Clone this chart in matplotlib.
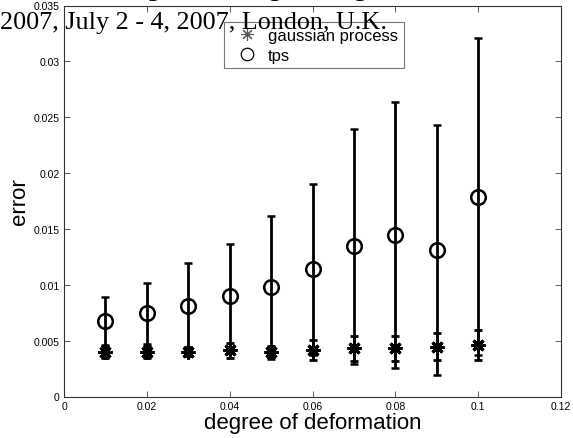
import matplotlib
matplotlib.use("Agg")
import matplotlib.pyplot as plt
from matplotlib.lines import Line2D

plt.rcParams['font.family'] = ['Liberation Sans', 'DejaVu Sans']

deformation = [0.01, 0.02, 0.03, 0.04, 0.05, 0.06, 0.07, 0.08, 0.09, 0.10]
gp_mean = [0.00400, 0.00400, 0.00400, 0.00412, 0.00400, 0.00420, 0.00432, 0.00430, 0.00445, 0.00459]
gp_err = [0.00055, 0.00055, 0.00040, 0.00070, 0.00050, 0.00090, 0.00110, 0.00110, 0.00120, 0.00135]
tps_mean = [0.00677, 0.00743, 0.00811, 0.00900, 0.00976, 0.01137, 0.01345, 0.01447, 0.01310, 0.01787]
tps_err = [0.00215, 0.00271, 0.00380, 0.00463, 0.00640, 0.00765, 0.01050, 0.01190, 0.01120, 0.01418]

xticks = [0, 0.02, 0.04, 0.06, 0.08, 0.1, 0.12]
xticklabels = ['0', '0.02', '0.04', '0.06', '0.08', '0.1', '0.12']
yticks = [0, 0.005, 0.01, 0.015, 0.02, 0.025, 0.03, 0.035]
yticklabels = ['0', '0.005', '0.01', '0.015', '0.02', '0.025', '0.03', '0.035']

W, H = 573, 439
fig = plt.figure(figsize=(W / 100, H / 100), dpi=100)
ax = fig.add_axes([64 / W, 1 - 397.5 / H, (561 - 64) / W, (397.5 - 6.5) / H])

ax.errorbar(deformation, tps_mean, yerr=tps_err, fmt='o', mfc='none', mec='k',
            mew=1.8, ms=10.5, ecolor='k', elinewidth=2, capsize=2.6, capthick=2)
ax.errorbar(deformation, gp_mean, yerr=gp_err, fmt='none', ecolor='k',
            elinewidth=2, capsize=2.6, capthick=2)
ax.plot(deformation, gp_mean, linestyle='none', marker=(8, 2, 0), ms=10,
        mec='k', mew=2.2, color='k')

ax.set_xlim(0, 0.12)
ax.set_ylim(0, 0.035)
ax.set_xticks(xticks)
ax.set_xticklabels(xticklabels)
ax.set_yticks(yticks)
ax.set_yticklabels(yticklabels)
ax.tick_params(direction='in', length=4, width=0.6, labelsize=7.5,
               top=True, right=True, color='#444444', pad=3)
for s in ax.spines.values():
    s.set_color('#333333')
    s.set_linewidth(0.8)

ax.set_xlabel('degree of deformation', fontsize=16, labelpad=1)
ax.set_ylabel('error', fontsize=16, labelpad=3)

handles = [Line2D([], [], linestyle='none', marker=(8, 2, 0), ms=9, mew=0.8,
                  color='#555555'),
           Line2D([], [], linestyle='none', marker='o', ms=9, mfc='none',
                  mec='k', mew=0.9)]
leg = ax.legend(handles, ['gaussian process', 'tps'], loc='upper left',
                bbox_to_anchor=((224 - 64) / 497, (397.5 - 23) / 391),
                borderaxespad=0, fontsize=12, frameon=True, fancybox=False,
                handlelength=2.0, handletextpad=0.3, borderpad=0.35,
                labelspacing=0.28)
leg.get_frame().set_edgecolor('#555555')
leg.get_frame().set_linewidth(0.8)

fig.text(0, 1 - 29.5 / H, '2007, July 2 - 4, 2007, London, U.K.',
         family=['Liberation Serif', 'DejaVu Serif'], fontsize=18.8,
         ha='left', va='baseline')
fig.text(161.5 / W, 1 + 4 / H,
         'Proceedings of the World Congress on Engineering 2007 Vol II',
         family=['Liberation Serif', 'DejaVu Serif'], fontsize=18.8,
         ha='center', va='baseline')

fig.savefig('out.png', dpi=100)
